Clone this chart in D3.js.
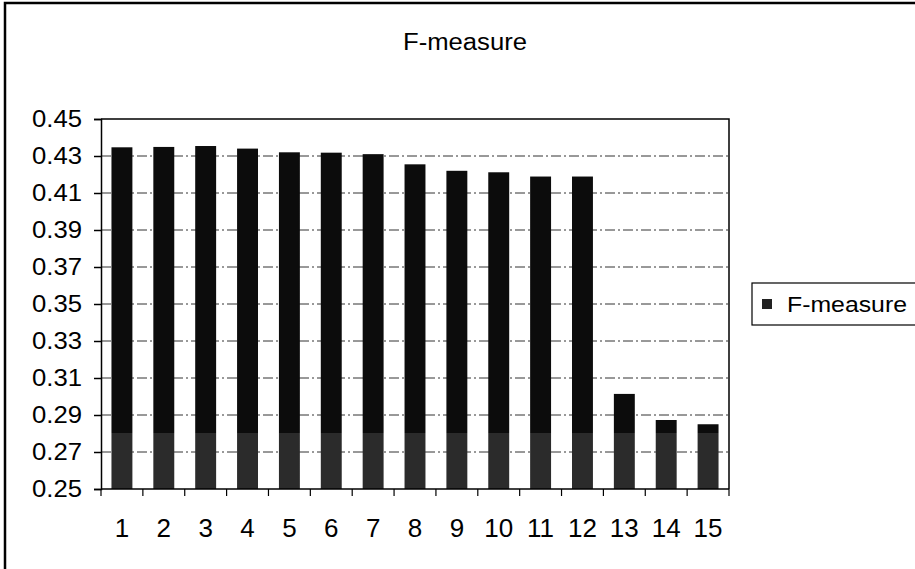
<!DOCTYPE html>
<html>
<head>
<meta charset="utf-8">
<script src="https://cdn.jsdelivr.net/npm/d3@7"></script>
<style>
body { margin: 0; background: #fff; }
text { font-family: "Liberation Sans", Arial, sans-serif; fill: #000; }
</style>
</head>
<body>
<div id="chart"></div>
<script>
var width = 915;
var height = 569;

var categories = ["1","2","3","4","5","6","7","8","9","10","11","12","13","14","15"];
var fmeasure = [0.4347, 0.4349, 0.4354, 0.4340, 0.4320, 0.4318, 0.4310, 0.4255,
	0.4220, 0.4212, 0.4189, 0.4189, 0.3014, 0.2873, 0.2850];
var yTicks = [0.25, 0.27, 0.29, 0.31, 0.33, 0.35, 0.37, 0.39, 0.41, 0.43, 0.45];

var plot = { left: 101, right: 729, top: 119, bottom: 489 };

var svg = d3.select("#chart")
	.append("svg")
		.attr("width", width)
		.attr("height", height)
	;

// outer chart frame (runs off the right / bottom edge)
svg.append("rect")
	.attr("x", 5).attr("y", 3)
	.attr("width", width + 10).attr("height", height + 10)
	.attr("fill", "none")
	.attr("stroke", "#000")
	.attr("stroke-width", 2.5)
	;

svg.append("text")
	.attr("x", 465).attr("y", 50)
	.attr("text-anchor", "middle")
	.attr("font-size", 23)
	.attr("textLength", 124)
	.attr("lengthAdjust", "spacingAndGlyphs")
	.text("F-measure")
	;

var x = d3.scaleBand()
	.domain(categories)
	.range([plot.left, plot.right])
	.paddingInner(0.5)
	.paddingOuter(0.25)
	;

var y = d3.scaleLinear()
	.domain([0.25, 0.45])
	.range([plot.bottom, plot.top])
	;

// two tone fill of the scanned bars
var grad = svg.append("defs").append("linearGradient")
	.attr("id", "barFill")
	.attr("gradientUnits", "userSpaceOnUse")
	.attr("x1", 0).attr("x2", 0)
	.attr("y1", y(0.45)).attr("y2", y(0.25))
	;
var split = (0.45 - 0.28) / 0.2;
grad.append("stop").attr("offset", 0).attr("stop-color", "#0c0c0c");
grad.append("stop").attr("offset", split).attr("stop-color", "#0c0c0c");
grad.append("stop").attr("offset", split).attr("stop-color", "#2b2b2b");
grad.append("stop").attr("offset", 1).attr("stop-color", "#2b2b2b");

// gridlines
svg.append("g")
	.selectAll("line")
	.data(yTicks.slice(1, -1))
	.enter()
		.append("line")
			.attr("x1", plot.left).attr("x2", plot.right)
			.attr("y1", d => y(d)).attr("y2", d => y(d))
			.attr("stroke", "#333")
			.attr("stroke-width", 1)
			.attr("stroke-dasharray", "10,3,2,3")
	;

// plot frame top / right
svg.append("path")
	.attr("d", "M" + plot.left + "," + plot.top + "H" + plot.right + "V" + plot.bottom)
	.attr("fill", "none")
	.attr("stroke", "#000")
	.attr("stroke-width", 1.5)
	;

svg.append("g")
	.selectAll("rect")
	.data(fmeasure)
	.enter()
		.append("rect")
			.attr("x", (d, i) => x(categories[i]))
			.attr("width", x.bandwidth())
			.attr("y", d => y(d))
			.attr("height", d => y(0.25) - y(d))
			.attr("fill", "url(#barFill)")
	;

// y axis
var yAxis = svg.append("g")
	.attr("transform", "translate(" + plot.left + ",0)")
	.call(d3.axisLeft(y).tickValues(yTicks).tickFormat(d3.format(".2f")).tickSize(7).tickPadding(12))
	;
yAxis.selectAll("text")
	.attr("font-size", 24)
	.attr("textLength", 50)
	.attr("lengthAdjust", "spacingAndGlyphs")
	.style("font-family", "Liberation Sans, Arial, sans-serif");
yAxis.selectAll("line, path").attr("stroke", "#000").attr("stroke-width", 1.5);

// x axis, ticks sit between categories
var step = x.step();
var xAxis = svg.append("g")
	.attr("transform", "translate(0," + plot.bottom + ")");
xAxis.append("line")
	.attr("x1", plot.left).attr("x2", plot.right)
	.attr("stroke", "#000").attr("stroke-width", 1.5);
xAxis.selectAll("line.tick")
	.data(d3.range(categories.length + 1))
	.enter()
		.append("line")
			.attr("class", "tick")
			.attr("x1", i => plot.left + i * step)
			.attr("x2", i => plot.left + i * step)
			.attr("y1", 0).attr("y2", 7)
			.attr("stroke", "#000").attr("stroke-width", 1.2)
	;
xAxis.selectAll("text")
	.data(categories)
	.enter()
		.append("text")
			.attr("x", d => x(d) + x.bandwidth() / 2)
			.attr("y", 48)
			.attr("text-anchor", "middle")
			.attr("font-size", 26)
			.text(d => d)
	;

// legend
var legend = svg.append("g");
legend.append("rect")
	.attr("x", 752).attr("y", 283)
	.attr("width", 200).attr("height", 42)
	.attr("fill", "#fff")
	.attr("stroke", "#000")
	.attr("stroke-width", 1.2)
	;
legend.append("rect")
	.attr("x", 762).attr("y", 299)
	.attr("width", 10).attr("height", 10)
	.attr("fill", "#222")
	;
legend.append("text")
	.attr("x", 787).attr("y", 312)
	.attr("font-size", 22)
	.attr("textLength", 120)
	.attr("lengthAdjust", "spacingAndGlyphs")
	.text("F-measure")
	;
</script>
</body>
</html>
